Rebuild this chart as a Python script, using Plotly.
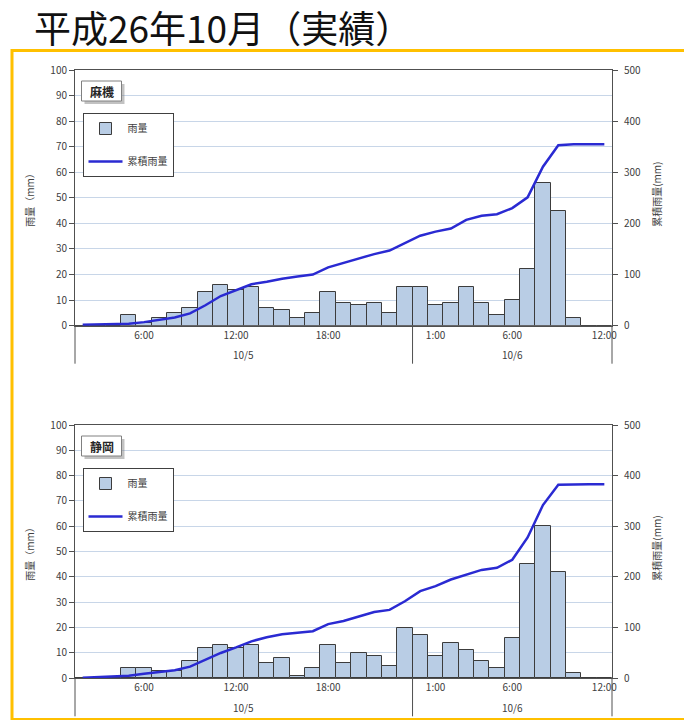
import pandas as pd
import plotly.graph_objects as go

W, H = 684, 720
FONT = "Noto Sans CJK JP, Noto Sans, sans-serif"

# ---- data -------------------------------------------------------------
hours = pd.date_range("2014-10-05 02:00", "2014-10-06 12:00", freq="h")
tick_times = ["2014-10-05 06:00", "2014-10-05 12:00", "2014-10-05 18:00",
              "2014-10-06 01:00", "2014-10-06 06:00", "2014-10-06 12:00"]
tick_labels = ["6:00", "12:00", "18:00", "1:00", "6:00", "12:00"]
day_labels = ["10/5", "10/6"]

station_names = ["麻機", "静岡"]
series_names = ["雨量", "累積雨量"]

# hourly rainfall (mm)
asabata_rain = [0, 0, 0, 4, 1, 3, 5, 7, 13, 16, 14, 15, 7, 6, 3, 5, 13, 9, 8, 9,
                5, 15, 15, 8, 9, 15, 9, 4, 10, 22, 56, 45, 3, 0, 0]
shizuoka_rain = [0, 0, 0, 4, 4, 3, 3, 7, 12, 13, 12, 13, 6, 8, 1, 4, 13, 6, 10, 9,
                 5, 20, 17, 9, 14, 11, 7, 4, 16, 45, 60, 42, 2, 0, 0]
# cumulative rainfall (mm)
asabata_cum = [2, 3, 3, 4, 7, 11, 16, 24, 40, 58, 70, 81, 86, 92, 96, 100, 114, 123,
               132, 140, 147, 162, 176, 184, 190, 207, 215, 218, 230, 251, 311, 353,
               355, 355, 355]
shizuoka_cum = [1, 2, 3, 5, 9, 13, 16, 23, 37, 50, 61, 73, 81, 87, 90, 93, 107, 113,
                122, 131, 135, 152, 172, 182, 195, 205, 214, 218, 234, 278, 342, 382,
                383, 383, 383]

# ---- helpers ----------------------------------------------------------
def fx(px):
    return px / W


def fy(py):
    return 1 - py / H


x_idx = list(range(len(hours)))
tick_vals = [hours.get_loc(pd.Timestamp(t)) for t in tick_times]
day_index = [[i for i, h in enumerate(hours) if h.day == d] for d in (5, 6)]
day_centers = [(min(g) + max(g)) / 2 for g in day_index]
day_break = max(day_index[0]) + 0.5

PLOT_L, PLOT_R = 75, 612
panels = [
    dict(name=station_names[0], rain=asabata_rain, cum=asabata_cum, top=70, bottom=325.7,
         xa="x", ya="y", ya2="y2", lg="legend"),
    dict(name=station_names[1], rain=shizuoka_rain, cum=shizuoka_cum, top=425, bottom=678.3,
         xa="x2", ya="y3", ya2="y4", lg="legend2"),
]

AXIS = "#505050"
TICKC = "#404040"
GRID = "#C8D6E8"
BAR_FILL = "#B9CDE5"
BAR_EDGE = "#3C3C3C"
LINE_C = "#2A2AD2"

fig = go.Figure()
shapes, annos = [], []
layout = dict(
    width=W, height=H, margin=dict(l=0, r=0, t=0, b=0),
    paper_bgcolor="white", plot_bgcolor="white",
    font=dict(family=FONT, size=10, color=TICKC),
    bargap=0, showlegend=True,
)

for k, p in enumerate(panels):
    xk = "xaxis" if k == 0 else "xaxis2"
    yk = "yaxis" if k == 0 else "yaxis3"
    y2k = "yaxis2" if k == 0 else "yaxis4"
    dom_y = [fy(p["bottom"]), fy(p["top"])]

    fig.add_trace(go.Bar(
        x=x_idx, y=p["rain"], name=series_names[0], width=1,
        marker=dict(color=BAR_FILL, line=dict(color=BAR_EDGE, width=1)),
        xaxis=p["xa"], yaxis=p["ya"], legend=p["lg"], legendgroup=f"bar{k}",
    ))
    fig.add_trace(go.Scatter(
        x=x_idx, y=p["cum"], name=series_names[1], mode="lines",
        line=dict(color=LINE_C, width=2.5),
        xaxis=p["xa"], yaxis=p["ya2"], legend=p["lg"], legendgroup=f"line{k}",
    ))

    layout[xk] = dict(
        domain=[fx(PLOT_L), fx(PLOT_R)], anchor=p["ya"], range=[-0.5, len(hours) - 0.5],
        tickmode="array", tickvals=tick_vals, ticktext=tick_labels, ticks="",
        showline=True, mirror=True, linecolor=AXIS, linewidth=1,
        showgrid=False, zeroline=False, automargin=False,
        tickfont=dict(size=10, color=TICKC),
    )
    layout[yk] = dict(
        domain=dom_y, anchor=p["xa"], range=[0, 100], dtick=10,
        ticks="outside", ticklen=5, tickcolor=AXIS,
        showline=True, linecolor=AXIS, linewidth=1,
        showgrid=True, gridcolor=GRID, gridwidth=1, zeroline=False, automargin=False,
        tickfont=dict(size=10, color=TICKC),
    )
    layout[y2k] = dict(
        domain=dom_y, anchor=p["xa"], overlaying=p["ya"], side="right",
        range=[0, 500], dtick=100, ticks="outside", ticklen=5, tickcolor=AXIS,
        showline=True, linecolor=AXIS, linewidth=1, ticklabelstandoff=4,
        showgrid=False, zeroline=False, automargin=False,
        tickfont=dict(size=10, color=TICKC),
    )
    layout[p["lg"]] = dict(
        x=fx(82.5), y=fy(p["top"] + 43), xanchor="left", yanchor="top",
        bgcolor="white", bordercolor="#404040", borderwidth=1,
        font=dict(size=10, color=TICKC, family=FONT),
        tracegroupgap=14, itemwidth=34, traceorder="grouped",
    )

    # axis extensions below the category axis and the day separator
    ext = p["bottom"] + 38
    for xp in (PLOT_L, PLOT_R):
        shapes.append(dict(type="line", xref="paper", yref="paper",
                           x0=fx(xp), x1=fx(xp), y0=fy(p["bottom"]), y1=fy(ext),
                           line=dict(color=AXIS, width=1)))
    shapes.append(dict(type="line", xref=p["xa"], yref="paper",
                       x0=day_break, x1=day_break, y0=fy(p["bottom"]), y1=fy(ext),
                       line=dict(color=AXIS, width=1)))
    for lab, xc in zip(day_labels, day_centers):
        annos.append(dict(text=lab, xref=p["xa"], yref="paper", x=xc, y=fy(p["bottom"] + 29),
                          showarrow=False, font=dict(size=10, color=TICKC),
                          xanchor="center", yanchor="middle"))

    # station name box with drop shadow
    bx0, bx1 = 81.5, 121.5
    by0, by1 = p["top"] + 11, p["top"] + 31
    shapes.append(dict(type="rect", xref="paper", yref="paper",
                       x0=fx(bx0 + 3), x1=fx(bx1 + 3), y0=fy(by0 + 3), y1=fy(by1 + 3),
                       fillcolor="rgba(120,120,120,0.45)", line=dict(width=0)))
    shapes.append(dict(type="rect", xref="paper", yref="paper",
                       x0=fx(bx0), x1=fx(bx1), y0=fy(by0), y1=fy(by1),
                       fillcolor="white", line=dict(color="#808080", width=1)))
    annos.append(dict(text=f"<b>{p['name']}</b>", xref="paper", yref="paper",
                      x=fx((bx0 + bx1) / 2), y=fy((by0 + by1) / 2), showarrow=False,
                      font=dict(size=12, color="#262626", family=FONT),
                      xanchor="center", yanchor="middle"))

    # axis titles
    mid = (p["top"] + p["bottom"]) / 2
    annos.append(dict(text="雨量（mm）", xref="paper", yref="paper", x=fx(30), y=fy(mid),
                      textangle=-90, showarrow=False, font=dict(size=10, color=TICKC),
                      xanchor="center", yanchor="middle"))
    annos.append(dict(text="累積雨量(mm)", xref="paper", yref="paper", x=fx(657), y=fy(mid - 3),
                      textangle=-90, showarrow=False, font=dict(size=10, color=TICKC),
                      xanchor="center", yanchor="middle"))

# page heading and frame
annos.append(dict(text="平成26年10月（実績）", xref="paper", yref="paper",
                  x=fx(32), y=fy(27), xanchor="left", yanchor="middle", showarrow=False,
                  font=dict(size=37, color="#111111", family=FONT)))
shapes.append(dict(type="rect", xref="paper", yref="paper",
                   x0=fx(12), x1=fx(W + 10), y0=fy(50.5), y1=fy(719.5),
                   line=dict(color="#FFC000", width=3), fillcolor="rgba(0,0,0,0)"))

layout["shapes"] = shapes
layout["annotations"] = annos
fig.update_layout(**layout)
fig.write_html("out.html")
